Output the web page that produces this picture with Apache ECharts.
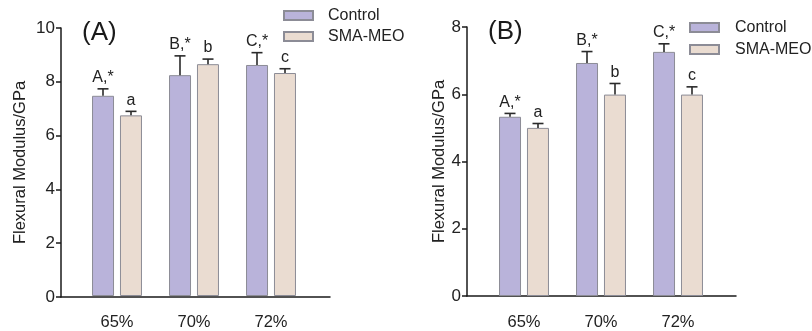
<!DOCTYPE html>
<html>
<head>
<meta charset="utf-8">
<script src="https://cdn.jsdelivr.net/npm/echarts@6/dist/echarts.min.js"></script>
<style>
html,body{margin:0;padding:0;background:#fff;}
#c{width:812px;height:331px;}
</style>
</head>
<body>
<div id="c"></div>
<script>
// ---- data ----
var categories = ['65%', '70%', '72%'];
var seriesNames = ['Control', 'SMA-MEO'];
// Panel A
var controlA = [7.47, 8.24, 8.62];
var controlErrA = [0.26, 0.72, 0.46];
var smaA = [6.74, 8.65, 8.32];
var smaErrA = [0.15, 0.19, 0.16];
// Panel B
var controlB = [5.33, 6.93, 7.26];
var controlErrB = [0.10, 0.34, 0.24];
var smaB = [5.00, 5.99, 5.99];
var smaErrB = [0.13, 0.33, 0.23];
// significance letters
var controlLetters = ['A,*', 'B,*', 'C,*'];
var smaLetters = ['a', 'b', 'c'];
// axis ticks
var yTicksA = [0, 2, 4, 6, 8, 10];
var yTicksB = [0, 2, 4, 6, 8];
var panelTitles = ['(A)', '(B)'];
var yName = 'Flexural Modulus/GPa';

var FONT = 'Arial, "Liberation Sans", sans-serif';
var C_CTRL = '#b9b3da';
var C_SMA = '#eadcd1';
var BORDER = '#8c8c96';
var BAR_W = 22;
var OFFSET = 14;

function errSeries(means, errs, letters, sign, xi, yi) {
  var data = means.map(function (m, i) { return [i, m, m + errs[i]]; });
  return {
    type: 'custom',
    xAxisIndex: xi, yAxisIndex: yi,
    z: 5,
    silent: true,
    data: data,
    renderItem: function (params, api) {
      var i = api.value(0);
      var p0 = api.coord([i, api.value(1)]);
      var p1 = api.coord([i, api.value(2)]);
      var x = p0[0] + sign * OFFSET;
      return {
        type: 'group',
        children: [
          { type: 'line', shape: { x1: x, y1: p0[1], x2: x, y2: p1[1] }, style: { stroke: '#2a2a2a', lineWidth: 1.6 } },
          { type: 'line', shape: { x1: x - 5.5, y1: p1[1], x2: x + 5.5, y2: p1[1] }, style: { stroke: '#2a2a2a', lineWidth: 1.6 } },
          { type: 'text', style: { x: x, y: p1[1] - 3, text: letters[params.dataIndex], fill: '#222', font: '16px ' + FONT, textAlign: 'center', textVerticalAlign: 'bottom' } }
        ]
      };
    }
  };
}

function barSeries(name, vals, color, xi, yi) {
  return {
    name: name, type: 'bar', xAxisIndex: xi, yAxisIndex: yi,
    data: vals, barWidth: BAR_W, barGap: '27%',
    itemStyle: { color: color, borderColor: BORDER, borderWidth: 1 }
  };
}

function outerX(gi) {
  return { type: 'value', gridIndex: gi, min: 0, max: 1, axisLine: { show: true, onZero: false, lineStyle: { color: '#1a1a1a', width: 1.5 } }, axisTick: { show: false }, axisLabel: { show: false }, splitLine: { show: false } };
}
function innerX(gi) {
  return { type: 'category', gridIndex: gi, data: categories, axisLine: { show: false }, axisTick: { show: false }, axisLabel: { margin: 18, fontSize: 16.5, color: '#222', fontFamily: FONT } };
}
function outerY(gi, max, gap) {
  return { type: 'value', gridIndex: gi, min: 0, max: max, interval: 2,
    name: yName, nameLocation: 'middle', nameGap: gap, nameTextStyle: { fontSize: 16.5, color: '#222', fontFamily: FONT },
    axisLine: { show: true, lineStyle: { color: '#1a1a1a', width: 1.5 } },
    axisTick: { show: true, length: 5, lineStyle: { color: '#1a1a1a', width: 1.5 } },
    axisLabel: { fontSize: 17, color: '#222', fontFamily: FONT, margin: 6 },
    splitLine: { show: false } };
}
function innerY(gi, max) {
  return { type: 'value', gridIndex: gi, min: 0, max: max, interval: 2, show: false, splitLine: { show: false } };
}

var chart = echarts.init(document.getElementById('c'), null, { renderer: 'canvas' });
chart.setOption({
  animation: false,
  backgroundColor: '#fff',
  title: [
    { text: panelTitles[0], left: 82, top: 20, padding: 0, textStyle: { fontSize: 26, fontWeight: 'normal', color: '#1a1a1a', fontFamily: FONT } },
    { text: panelTitles[1], left: 488, top: 19, padding: 0, textStyle: { fontSize: 26, fontWeight: 'normal', color: '#1a1a1a', fontFamily: FONT } }
  ],
  legend: [
    { orient: 'vertical', left: 283, top: 7.5, padding: 0, itemWidth: 29, itemHeight: 9, itemGap: 5, icon: 'rect', data: seriesNames,
      textStyle: { fontSize: 16, lineHeight: 16, color: '#222', fontFamily: FONT, padding: [0, 0, 0, 10] } },
    { orient: 'vertical', left: 689, top: 19.5, padding: 0, itemWidth: 29, itemHeight: 9, itemGap: 6, icon: 'rect', data: seriesNames,
      textStyle: { fontSize: 16, lineHeight: 16, color: '#222', fontFamily: FONT, padding: [0, 0, 0, 11] } }
  ],
  grid: [
    { left: 61, top: 28, width: 269, height: 269 },
    { left: 78.5, top: 28, width: 231, height: 269 },
    { left: 467, top: 27, width: 269, height: 269 },
    { left: 485.5, top: 27, width: 231, height: 269 }
  ],
  xAxis: [outerX(0), innerX(1), outerX(2), innerX(3)],
  yAxis: [outerY(0, 10, 32), innerY(1, 10), outerY(2, 8, 19), innerY(3, 8)],
  series: [
    barSeries(seriesNames[0], controlA, C_CTRL, 1, 1),
    barSeries(seriesNames[1], smaA, C_SMA, 1, 1),
    errSeries(controlA, controlErrA, controlLetters, -1, 1, 1),
    errSeries(smaA, smaErrA, smaLetters, 1, 1, 1),
    barSeries(seriesNames[0], controlB, C_CTRL, 3, 3),
    barSeries(seriesNames[1], smaB, C_SMA, 3, 3),
    errSeries(controlB, controlErrB, controlLetters, -1, 3, 3),
    errSeries(smaB, smaErrB, smaLetters, 1, 3, 3)
  ]
});
</script>
</body>
</html>
